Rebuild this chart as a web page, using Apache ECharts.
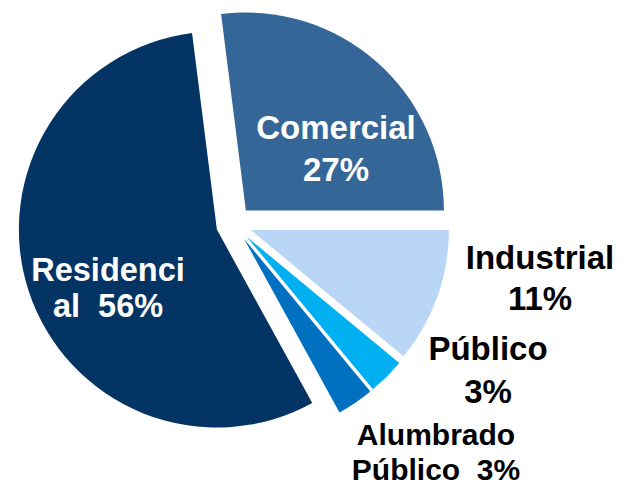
<!DOCTYPE html>
<html>
<head>
<meta charset="utf-8">
<script src="https://cdn.jsdelivr.net/npm/echarts@6/dist/echarts.min.js"></script>
<style>
html, body { margin: 0; padding: 0; background: #ffffff; }
#chart { width: 626px; height: 486px; }
</style>
</head>
<body>
<div id="chart"></div>
<script>
// Data (clockwise from top)
var categories = ['Comercial', 'Industrial', 'Público', 'Alumbrado Público', 'Residencial'];
var values = [27, 11, 3, 3, 56];
var labelTemplates = ['Comercial\n{v}%', 'Industrial\n{v}%', 'Público\n{v}%', 'Alumbrado\nPúblico  {v}%', 'Residenci\nal  {v}%'];

// Styles
var colors = ['#356698', '#bad6f7', '#00b0f0', '#0070c0', '#033464'];
var labelColors = ['#ffffff', '#000000', '#000000', '#000000', '#ffffff'];
var labelFontSizes = [33, 33, 33, 30, 32.5];
var labelLineHeights = [42, 41, 43, 35, 36];
var labelPositions = [[336, 148], [540, 278], [488, 370], [436, 452], [108, 288]];

var chart = echarts.init(document.getElementById('chart'), null, { renderer: 'svg' });

var data = categories.map(function (c, i) {
  return {
    name: c,
    value: values[i],
    selected: true,
    itemStyle: { color: colors[i] }
  };
});

var labelGraphics = categories.map(function (c, i) {
  return {
    type: 'text',
    x: labelPositions[i][0],
    y: labelPositions[i][1],
    silent: true,
    z: 100,
    style: {
      text: labelTemplates[i].replace('{v}', values[i]),
      fill: labelColors[i],
      font: 'bold ' + labelFontSizes[i] + 'px "Liberation Sans", Arial, sans-serif',
      lineHeight: labelLineHeights[i],
      align: 'center',
      verticalAlign: 'middle'
    }
  };
});

chart.setOption({
  animation: false,
  backgroundColor: '#ffffff',
  series: [{
    type: 'pie',
    center: [234, 224],
    radius: 198,
    startAngle: 97.2,
    clockwise: true,
    selectedMode: 'multiple',
    selectedOffset: 18,
    avoidLabelOverlap: false,
    silent: true,
    data: data,
    itemStyle: { borderWidth: 0 },
    select: { itemStyle: { borderWidth: 0 } },
    label: { show: false },
    labelLine: { show: false }
  }],
  graphic: labelGraphics
});
</script>
</body>
</html>
